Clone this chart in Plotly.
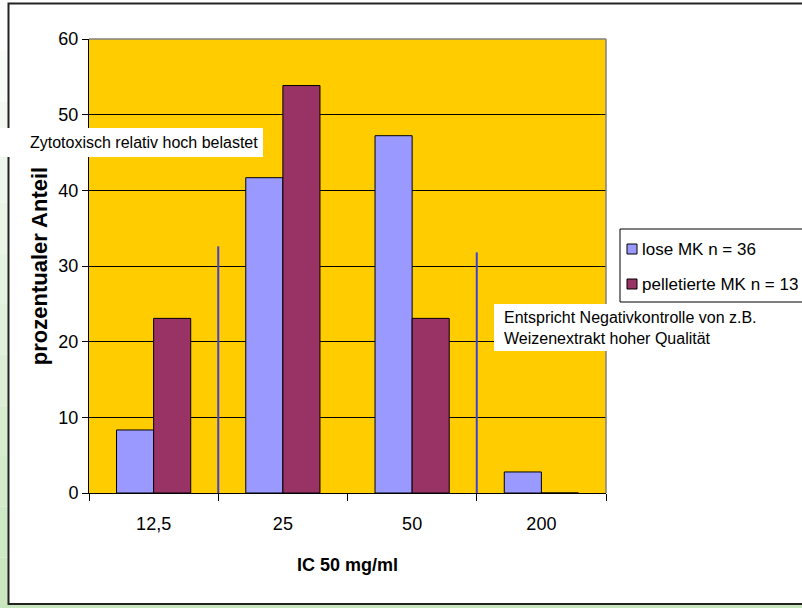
import plotly.graph_objects as go

# ---- data ----
categories = ["12,5", "25", "50", "200"]
lose_mk = [8.33, 41.67, 47.22, 2.78]
pelletierte_mk = [23.08, 53.85, 23.08, 0]
series_names = ["lose MK n = 36", "pelletierte MK n = 13"]
series_colors = ["#9999FF", "#993366"]
divider_heights = [32.6, 31.8]   # heights of the two vertical separator lines
y_ticks = [0, 10, 20, 30, 40, 50, 60]

# ---- geometry (pixels) ----
W, H = 802, 608
L, R, T, B = 89, 606, 39, 493
pw, ph = R - L, B - T


def px(x):
    return (x - L) / pw


def py(y):
    return (B - y) / ph


FONT = "Liberation Sans, Arial, sans-serif"

fig = go.Figure()
for vals, name, col in zip([lose_mk, pelletierte_mk], series_names, series_colors):
    fig.add_trace(go.Bar(
        x=categories, y=vals, name=name,
        marker=dict(color=col, line=dict(color="#000000", width=1)),
    ))

shapes = []
# green gradient strip at left and bottom (page background)
n = 12
for i in range(n):
    y0 = H * i / n
    y1 = H * (i + 1) / n
    t = (i + 0.5) / n
    r = int(255 - t * (255 - 200))
    g = int(255 - t * (255 - 230))
    b = int(255 - t * (255 - 190))
    shapes.append(dict(type="rect", xref="paper", yref="paper", layer="below",
                       x0=px(0), x1=px(8), y0=py(y1), y1=py(y0),
                       line=dict(width=0), fillcolor=f"rgb({r},{g},{b})"))
shapes.append(dict(type="rect", xref="paper", yref="paper", layer="below",
                   x0=px(0), x1=px(W + 5), y0=py(H + 5), y1=py(605),
                   line=dict(width=0), fillcolor="#C8E6BE"))
# outer chart border
shapes.append(dict(type="rect", xref="paper", yref="paper", layer="below",
                   x0=px(8.5), x1=px(W + 20), y0=py(604), y1=py(3.5),
                   line=dict(color="#222222", width=2), fillcolor="rgba(0,0,0,0)"))
# plot area gray border (top/right)
shapes.append(dict(type="line", xref="paper", yref="paper", layer="above",
                   x0=0, x1=1, y0=1, y1=1, line=dict(color="#808080", width=1.5)))
shapes.append(dict(type="line", xref="paper", yref="paper", layer="above",
                   x0=1, x1=1, y0=0, y1=1, line=dict(color="#808080", width=1.5)))
# vertical separator lines at category boundaries 12,5|25 and 50|200
for pos, h in zip([0.5, 2.5], divider_heights):
    shapes.append(dict(type="line", xref="x", yref="y", layer="above",
                       x0=pos, x1=pos, y0=0, y1=h,
                       line=dict(color="#4040D8", width=2)))
# white boxes behind annotations
shapes.append(dict(type="rect", xref="paper", yref="paper", layer="above",
                   x0=px(0), x1=px(263), y0=py(157), y1=py(128),
                   line=dict(width=0), fillcolor="#FFFFFF"))
shapes.append(dict(type="rect", xref="paper", yref="paper", layer="above",
                   x0=px(494), x1=px(770), y0=py(351), y1=py(304),
                   line=dict(width=0), fillcolor="#FFFFFF"))
# legend box
shapes.append(dict(type="rect", xref="paper", yref="paper", layer="above",
                   x0=px(620), x1=px(W + 20), y0=py(302), y1=py(229),
                   line=dict(color="#000000", width=1), fillcolor="#FFFFFF"))

annotations = [
    dict(xref="paper", yref="paper", x=px(28), y=py(142.5), xanchor="left",
         yanchor="middle", showarrow=False, align="left",
         text="Zytotoxisch relativ hoch belastet",
         font=dict(family=FONT, size=16, color="#000000")),
    dict(xref="paper", yref="paper", x=px(502), y=py(328), xanchor="left",
         yanchor="middle", showarrow=False, align="left",
         text="Entspricht Negativkontrolle von z.B.<br>Weizenextrakt hoher Qualität",
         font=dict(family=FONT, size=16, color="#000000")),
]

# legend entries (symbol + text)
for i, (name, col) in enumerate(zip(series_names, series_colors)):
    cy = 249 + i * 35
    shapes.append(dict(type="rect", xref="paper", yref="paper", layer="above",
                       x0=px(627), x1=px(637), y0=py(cy + 5), y1=py(cy - 5),
                       line=dict(color="#000000", width=1), fillcolor=col))
    annotations.append(dict(xref="paper", yref="paper", x=px(640), y=py(cy),
                            xanchor="left", yanchor="middle", showarrow=False,
                            text=name, font=dict(family=FONT, size=17, color="#000000")))

fig.update_layout(
    width=W, height=H,
    margin=dict(l=L, r=W - R, t=T, b=H - B, autoexpand=False),
    paper_bgcolor="#FFFFFF",
    plot_bgcolor="#FFCC00",
    barmode="group",
    bargap=0.426,
    bargroupgap=0,
    font=dict(family=FONT, size=18, color="#000000"),
    showlegend=False,
    xaxis=dict(
        type="category", categoryorder="array", categoryarray=categories,
        showline=True, linecolor="#000000", linewidth=1,
        ticks="outside", tickson="boundaries", ticklen=7, tickcolor="#000000",
        ticklabelstandoff=14,
        showgrid=False,
        title=dict(text="<b>IC 50 mg/ml</b>", standoff=25,
                   font=dict(family=FONT, size=18)),
    ),
    yaxis=dict(
        range=[0, 60], tickvals=y_ticks,
        showline=True, linecolor="#000000", linewidth=1,
        ticks="outside", ticklen=6, tickcolor="#000000",
        showgrid=True, gridcolor="#000000", gridwidth=1,
        zeroline=False,
        title=dict(text="<b>prozentualer Anteil</b>", standoff=4,
                   font=dict(family=FONT, size=22)),
    ),
    shapes=shapes,
    annotations=annotations,
)

fig.write_html("out.html", config={"displayModeBar": False},
               post_script="document.body.style.margin='0';")
